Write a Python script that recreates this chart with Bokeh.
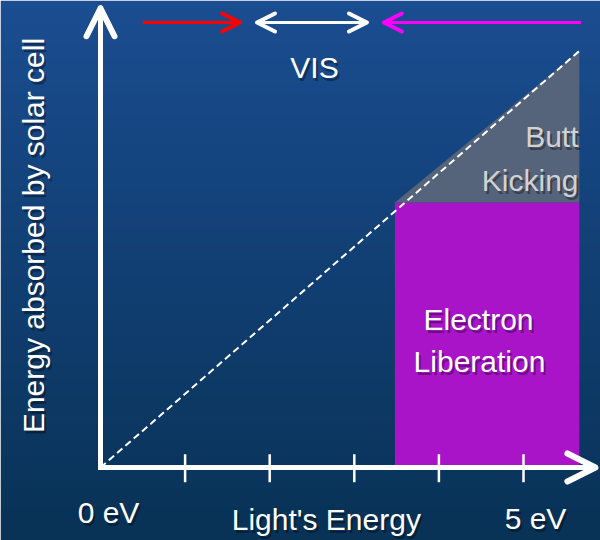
import numpy as np
from bokeh.plotting import figure
from bokeh.models import Range1d, Arrow, OpenHead, ColumnDataSource
from bokeh.core.properties import value
from bokeh.embed import file_html
from bokeh.resources import INLINE

# ---- data (energies in eV) ----
energy_ticks = [1, 2, 3, 4, 5]
end_labels = ["0 eV", "5 eV"]
end_label_x = [0, 5]
band_gap = 3.48          # photon energy where absorption starts
absorbed_energy = 3.6    # energy the cell can use (electron liberation)
photon_max = 5.66        # right end of the drawn photon range
ir_range = [0.5, 1.65]   # red arrow
vis_range = [1.85, 3.15] # white double arrow
uv_range = [3.35, 5.68]  # magenta arrow

FONT = value("Liberation Sans")

# screen mapping: origin at (100,467), 84.6 px/eV in x, 73.6 px/unit in y
W, H = 600, 540
ox, oy = 100.0, 467.0
sx, sy = 84.6, 73.6
p = figure(width=W, height=H, output_backend="svg", toolbar_location=None,
           x_range=Range1d(-ox / sx, (W - ox) / sx),
           y_range=Range1d(-(H - oy) / sy, oy / sy),
           x_axis_type=None, y_axis_type=None, min_border=0,
           outline_line_color=None)
p.grid.visible = False

# background gradient
n = 64
top = np.array([27, 77, 145]); bot = np.array([8, 50, 86])
img = np.zeros((n, 1), dtype=np.uint32)
view = img.view(dtype=np.uint8).reshape((n, 1, 4))
for i in range(n):
    t = i / (n - 1)  # 0 bottom -> 1 top
    c = bot + (top - bot) * t
    view[i, 0, :3] = c.astype(np.uint8)
    view[i, 0, 3] = 255
p.image_rgba(image=[img], x=p.x_range.start, y=p.y_range.start,
             dw=p.x_range.end - p.x_range.start, dh=p.y_range.end - p.y_range.start)

# regions
p.quad(left=[band_gap], right=[photon_max], bottom=[0], top=[absorbed_energy],
       fill_color="#a914c9", line_color=None)
p.patch(x=[band_gap, photon_max, photon_max], y=[absorbed_energy, photon_max, absorbed_energy],
        fill_color="#55647a", line_color=None)

# diagonal (energy absorbed if all were usable)
p.line(x=[0, photon_max], y=[0, photon_max], line_color="white", line_width=2, line_dash="7 4")

# axes
x_tip = 5.85
y_tip = 6.24
p.line(x=[0, 0, x_tip], y=[y_tip, 0, 0], line_color="white", line_width=5,
       line_join="miter", line_cap="round")
for xe, ye in [(x_tip, 0), (0, y_tip)]:
    p.add_layout(Arrow(x_start=0, y_start=0, x_end=xe, y_end=ye, line_alpha=0,
                       end=OpenHead(size=28, line_color="white", line_width=6,
                                    line_cap="round", line_join="round")))
p.segment(x0=energy_ticks, y0=[0.18] * 5, x1=energy_ticks, y1=[-0.2] * 5,
          line_color="white", line_width=2.5)

# spectrum arrows
def X(px): return (px - ox) / sx
def Y(py): return (oy - py) / sy

ya = Y(22)
def head(c):
    return OpenHead(size=18, line_color=c, line_width=4, line_cap="round", line_join="round")
p.add_layout(Arrow(x_start=ir_range[0], y_start=ya, x_end=ir_range[1], y_end=ya,
                   line_color="#ff0000", line_width=3, end=head("#ff0000")))
p.add_layout(Arrow(x_start=vis_range[0], y_start=ya, x_end=vis_range[1], y_end=ya,
                   line_color="white", line_width=3, start=head("white"), end=head("white")))
p.add_layout(Arrow(x_start=uv_range[1], y_start=ya, x_end=uv_range[0], y_end=ya,
                   line_color="#ff00ff", line_width=3, end=head("#ff00ff")))

# texts (screen baselines; renderer draws ~10px lower, compensated)
texts = [
    ("VIS", X(314), Y(67), "center", "white"),
    ("Butt", X(578), Y(136), "right", "#d2d2d2"),
    ("Kicking", X(578), Y(180), "right", "#d2d2d2"),
    ("Electron", X(478), Y(319), "center", "white"),
    ("Liberation", X(479), Y(361), "center", "white"),
    (end_labels[0], end_label_x[0] + X(108), Y(512), "center", "white"),
    (end_labels[1], end_label_x[1] + X(535) - 5, Y(518), "center", "white"),
    ("Light's  Energy", X(330), Y(519), "center", "white"),
]
src = ColumnDataSource(dict(t=[a[0] for a in texts], x=[a[1] for a in texts],
                            y=[a[2] for a in texts], al=[a[3] for a in texts],
                            c=[a[4] for a in texts]))
p.text(x="x", y="y", text="t", source=src, text_align="al", text_baseline="alphabetic",
       text_font=FONT, text_font_size="30px", text_color="black", text_alpha=0.35,
       x_offset=2, y_offset=3)
p.text(x="x", y="y", text="t", source=src, text_align="al", text_baseline="alphabetic",
       text_font=FONT, text_font_size="30px", text_color="c")

ylab = "Energy absorbed by solar cell"
for col, alpha, dx, dy in [("black", 0.35, 2, 3), ("white", 1.0, 0, 0)]:
    p.text(x=[X(33)], y=[Y(235)], text=[ylab], angle=np.pi / 2, text_align="center",
           text_baseline="alphabetic", text_font=FONT, text_font_size="30px",
           text_color=col, text_alpha=alpha, x_offset=dx, y_offset=dy)

open("out.html", "w").write(file_html(p, INLINE))
